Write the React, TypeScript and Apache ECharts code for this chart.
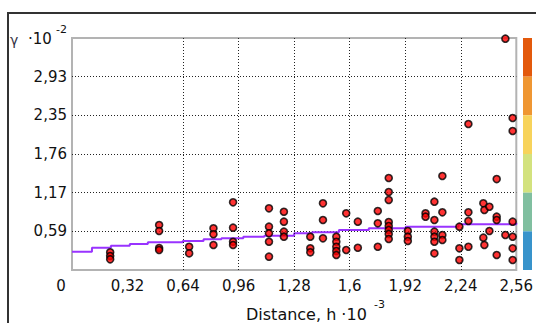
import React, { useEffect, useRef } from "react";
import * as echarts from "echarts";

// Experimental semivariogram: lag distance (h·10^-3) and semivariance (γ·10^-2)
const lagDistance = [
  0.22, 0.22, 0.22,
  0.502, 0.502, 0.502, 0.502,
  0.675, 0.675,
  0.815, 0.815, 0.815,
  0.928, 0.928, 0.928, 0.928,
  1.135, 1.135, 1.135, 1.135, 1.135,
  1.221, 1.221, 1.221, 1.221,
  1.373, 1.373, 1.373,
  1.446, 1.446, 1.446,
  1.523, 1.523, 1.523, 1.523, 1.523,
  1.58, 1.58,
  1.647, 1.647,
  1.762, 1.762, 1.762,
  1.825, 1.825, 1.825, 1.825, 1.825, 1.825, 1.825, 1.825,
  1.935, 1.935, 1.935,
  2.037, 2.037,
  2.088, 2.088, 2.088, 2.088, 2.088, 2.088,
  2.134, 2.134, 2.134, 2.134,
  2.232, 2.232, 2.232,
  2.284, 2.284, 2.284, 2.284,
  2.37, 2.37,
  2.376, 2.376,
  2.405, 2.405,
  2.447, 2.447, 2.447, 2.447,
  2.497, 2.497,
  2.539, 2.539, 2.539, 2.539, 2.539, 2.539,
];

const semivariance = [
  0.268, 0.212, 0.162,
  0.683, 0.592, 0.334, 0.303,
  0.353, 0.253,
  0.633, 0.542, 0.379,
  1.027, 0.642, 0.429, 0.379,
  0.936, 0.657, 0.557, 0.429, 0.202,
  0.884, 0.733, 0.581, 0.505,
  0.505, 0.329, 0.268,
  1.012, 0.759, 0.481,
  0.505, 0.429, 0.353, 0.288, 0.228,
  0.86, 0.303,
  0.733, 0.338,
  0.895, 0.708, 0.353,
  1.396, 1.183, 1.062, 0.728, 0.667, 0.607, 0.546, 0.47,
  0.592, 0.505, 0.44,
  0.86, 0.809,
  1.036, 0.759, 0.581, 0.505, 0.429, 0.253,
  1.426, 0.875, 0.531, 0.455,
  0.657, 0.329, 0.152,
  2.215, 0.875, 0.743, 0.353,
  1.012, 0.49,
  0.91, 0.379,
  0.96, 0.592,
  1.38, 0.809, 0.759, 0.228,
  3.51, 0.531,
  2.306, 2.109, 0.733, 0.505, 0.329, 0.152,
];

// Fitted model curve
const modelDistance = [
  0, 0.115, 0.224, 0.333, 0.437, 0.638, 0.758, 0.861, 0.987,
  1.108, 1.28, 1.383, 1.538, 1.71, 1.923, 2.227, 2.56,
];
const modelGamma = [
  0.278, 0.338, 0.369, 0.394, 0.42, 0.44, 0.466, 0.48, 0.505,
  0.52, 0.557, 0.572, 0.607, 0.633, 0.657, 0.693, 0.718,
];

// Vertical dotted grid positions
const verticalGrid = [0.64, 0.96, 1.28, 1.6, 1.92, 2.24];

// Colour scale swatches, top to bottom
const scaleColors = ["#e3590c", "#ef9632", "#f7d35b", "#d3e27e", "#80bfa0", "#3893cb"];

const X_MAX = 2.56;
const X_STEP = 0.32;
const Y_MAX = 3.52;
const Y_STEP = Y_MAX / 6;

const FONT = "DejaVu Sans";
const TEXT_COLOR = "#111";

const fmtNum = (v: number) => String(+v.toFixed(2)).replace(".", ",");

export default function App() {
  const ref = useRef<HTMLDivElement>(null);

  useEffect(() => {
    if (!ref.current) return;
    const chart = echarts.init(ref.current, undefined, { renderer: "svg" });

    const points = lagDistance.map((d, i) => [d, semivariance[i]]);
    const model = modelDistance.map((d, i) => [d, modelGamma[i]]);

    const plotTop = 38;
    const plotBottom = 270;
    const swatchH = (plotBottom - plotTop) / scaleColors.length;

    const option: any = {
      animation: false,
      backgroundColor: "#ffffff",
      grid: {
        left: 72,
        top: plotTop,
        right: 18,
        bottom: 323 - plotBottom,
        show: true,
        borderColor: "#b3b3b3",
        borderWidth: 2,
        backgroundColor: "transparent",
      },
      xAxis: {
        type: "value",
        min: 0,
        max: X_MAX,
        interval: X_STEP,
        axisLine: { show: false },
        axisTick: { show: false },
        splitLine: { show: false },
        axisLabel: {
          margin: 8,
          fontFamily: FONT,
          fontSize: 15,
          color: TEXT_COLOR,
          formatter: (v: number) => (v === 0 ? "{o|0}" : fmtNum(v)),
          rich: {
            o: {
              fontFamily: FONT,
              fontSize: 15,
              color: TEXT_COLOR,
              padding: [0, 22, 0, 0],
            },
          },
        },
      },
      yAxis: {
        type: "value",
        min: 0,
        max: Y_MAX,
        interval: Y_STEP,
        axisLine: { show: false },
        axisTick: { show: false },
        splitLine: {
          show: true,
          showMinLine: false,
          showMaxLine: false,
          lineStyle: { type: [1, 2], color: "#222", width: 1 },
        },
        axisLabel: {
          margin: 5,
          fontFamily: FONT,
          fontSize: 15,
          color: TEXT_COLOR,
          formatter: (v: number) =>
            v <= 0 || v >= Y_MAX - 0.01 ? "" : v.toFixed(2).replace(".", ","),
        },
      },
      series: [
        {
          type: "line",
          data: model,
          step: "end",
          showSymbol: false,
          z: 3,
          lineStyle: { color: "#9933ff", width: 2 },
          markLine: {
            silent: true,
            symbol: ["none", "none"],
            label: { show: false },
            lineStyle: { type: [1, 2], color: "#222", width: 1 },
            emphasis: { disabled: true },
            data: verticalGrid.map((v) => ({ xAxis: v })),
          },
        },
        {
          type: "scatter",
          data: points,
          z: 5,
          symbol: "circle",
          symbolSize: 7,
          itemStyle: { color: "#ff0000", borderColor: "#000", borderWidth: 1.6 },
        },
      ],
      graphic: [
        // outer frame
        {
          type: "rect",
          shape: { x: 8, y: 13, width: 600, height: 400 },
          style: { fill: "none", stroke: "#333", lineWidth: 2 },
          silent: true,
        },
        // colour scale
        ...scaleColors.map((c, i) => ({
          type: "rect",
          shape: { x: 523, y: plotTop + i * swatchH, width: 9, height: swatchH },
          style: { fill: c },
          silent: true,
        })),
        // y-axis title
        {
          type: "text",
          x: 10,
          y: 40,
          style: { text: "γ", font: `14px '${FONT}'`, fill: "#334", textVerticalAlign: "middle" },
        },
        {
          type: "text",
          x: 28,
          y: 39,
          style: { text: "·10", font: `15px '${FONT}'`, fill: TEXT_COLOR, textVerticalAlign: "middle" },
        },
        {
          type: "text",
          x: 56,
          y: 29,
          style: { text: "-2", font: `11px '${FONT}'`, fill: TEXT_COLOR, textVerticalAlign: "middle" },
        },
        // x-axis title
        {
          type: "text",
          x: 246,
          y: 314,
          style: {
            text: "Distance, h ·10",
            font: `16px '${FONT}'`,
            fill: TEXT_COLOR,
            textVerticalAlign: "middle",
          },
        },
        {
          type: "text",
          x: 374,
          y: 304,
          style: { text: "-3", font: `11px '${FONT}'`, fill: TEXT_COLOR, textVerticalAlign: "middle" },
        },
      ],
    };

    chart.setOption(option);
    return () => chart.dispose();
  }, []);

  return (
    <div
      ref={ref}
      style={{ position: "fixed", left: 0, top: 0, width: 536, height: 323, background: "#fff" }}
    />
  );
}
